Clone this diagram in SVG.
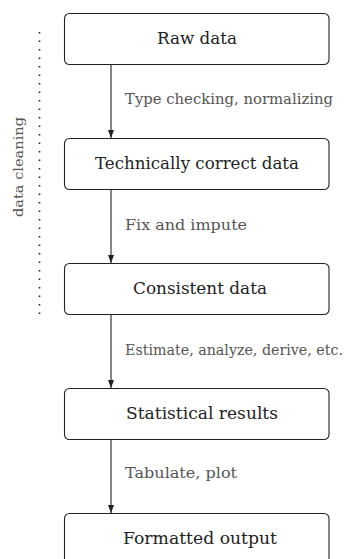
<svg xmlns="http://www.w3.org/2000/svg" width="347" height="559" viewBox="0 0 347 559">
<style>
.box{fill:#fff;stroke:#222;stroke-width:1.1}
.nl{font-family:"DejaVu Serif","Liberation Serif",serif;font-size:16.5px;fill:#222;text-anchor:middle}
.el{font-family:"DejaVu Serif","Liberation Serif",serif;font-size:14.5px;fill:#555}
.edge{stroke:#222;stroke-width:1.1;fill:none;marker-end:url(#ah)}
</style>
<defs>
<marker id="ah" markerWidth="8" markerHeight="6" refX="8" refY="3" orient="auto" markerUnits="userSpaceOnUse" viewBox="0 0 8 6">
<path d="M0,0 L8,3 L0,6 Z" fill="#222"/>
</marker>
</defs>
<rect width="347" height="559" fill="#fff"/>
<g id="data-cleaning">
<line x1="39.5" y1="32" x2="39.5" y2="320" stroke="#222" stroke-width="1.6" stroke-dasharray="1.6 6.9"/>
<text transform="translate(23 167) rotate(-90)" font-family="DejaVu Serif, Liberation Serif, serif" font-size="13.5" fill="#555" text-anchor="middle" textLength="100" lengthAdjust="spacingAndGlyphs">data cleaning</text>
</g>
<g id="connectors">
<line class="edge" x1="111" y1="64" x2="111" y2="138"/>
<line class="edge" x1="111" y1="189" x2="111" y2="263"/>
<line class="edge" x1="111" y1="314" x2="111" y2="388"/>
<line class="edge" x1="111" y1="439" x2="111" y2="513"/>
<text class="el" x="125" y="104" textLength="208" lengthAdjust="spacingAndGlyphs">Type checking, normalizing</text>
<text class="el" x="125" y="230" textLength="122" lengthAdjust="spacingAndGlyphs">Fix and impute</text>
<text class="el" x="125" y="355" textLength="218" lengthAdjust="spacingAndGlyphs">Estimate, analyze, derive, etc.</text>
<text class="el" x="125" y="478" textLength="112" lengthAdjust="spacingAndGlyphs">Tabulate, plot</text>
</g>
<g id="raw-data"><rect class="box" x="64.5" y="13.5" width="264.5" height="51" rx="5"/><text class="nl" x="197" y="44" textLength="80" lengthAdjust="spacingAndGlyphs">Raw data</text></g>
<g id="technically-correct-data"><rect class="box" x="64.5" y="138.5" width="264.5" height="51" rx="5"/><text class="nl" x="197" y="169" textLength="204" lengthAdjust="spacingAndGlyphs">Technically correct data</text></g>
<g id="consistent-data"><rect class="box" x="64.5" y="263.5" width="264.5" height="51" rx="5"/><text class="nl" x="200" y="294" textLength="134" lengthAdjust="spacingAndGlyphs">Consistent data</text></g>
<g id="statistical-results"><rect class="box" x="64.5" y="388.5" width="264.5" height="51" rx="5"/><text class="nl" x="202" y="419" textLength="152" lengthAdjust="spacingAndGlyphs">Statistical results</text></g>
<g id="formatted-output"><rect class="box" x="64.5" y="513.5" width="264.5" height="51" rx="5"/><text class="nl" x="200" y="544" textLength="154" lengthAdjust="spacingAndGlyphs">Formatted output</text></g>
</svg>
